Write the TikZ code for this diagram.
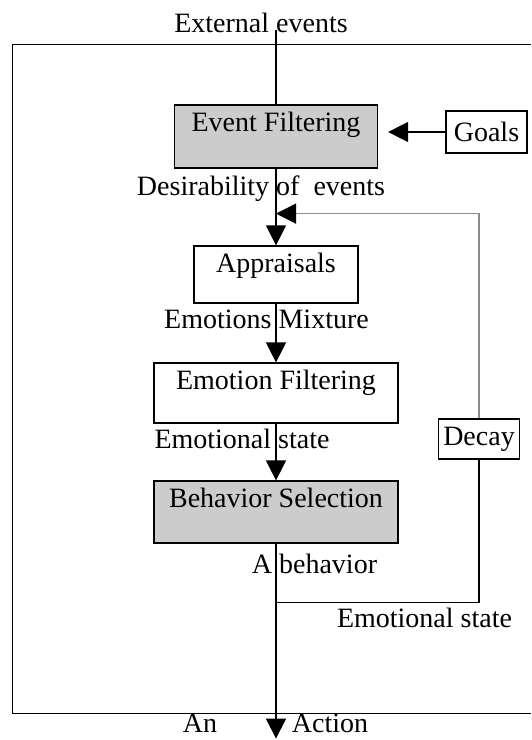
\documentclass[tikz,border=0pt]{standalone}
\usepackage{fontspec}
\setmainfont{Liberation Serif}
\usetikzlibrary{positioning, arrows.meta}

\begin{document}
\begin{tikzpicture}[x=1pt, y=-1pt, ->, >={Triangle[width=20pt,length=20pt]}, line width=1.2pt,
	font=\fontsize{28}{32}\selectfont,
	stage/.style={
		rectangle,
		draw=black,
		inner sep=0pt,
		text height=26pt,
		text centered,
	},
	side/.style={rectangle, draw=black, inner sep=2pt, minimum width=81pt},
	lbl/.style={anchor=base, inner sep=0pt},
	feedback/.style={draw=black!45, -{Triangle[width=20pt,length=20pt,color=black]}},]
	\useasboundingbox (0,0) rectangle (531,740);
	\draw[-, line width=1pt] (531,44) -| (12,713) -- (531,713);

	\node[stage, fill=gray!40, minimum width=203pt, text depth=37pt] (EF) at (276,136.5) {Event Filtering};
	\node[stage, below of = EF, node distance=138pt, minimum width=164pt, text depth=31pt] (App) {Appraisals};
	\node[stage, below of = App, node distance=118.5pt, minimum width=244pt, text depth=34pt] (EmF) {Emotion Filtering};
	\node[stage, below of = EmF, node distance=119pt, fill=gray!40, minimum width=244pt, text depth=36pt] (BS) {Behavior Selection};
	\node[side, right of = EF, node distance=210.5pt, yshift=4.5pt, minimum height=42pt] (Goals) {Goals};
	\node[side, right of = EmF, node distance=203pt, yshift=-46pt, minimum height=40pt] (Decay) {Decay};

	\node[lbl] (ext) at (261,32) {External events};
	\coordinate (fbin) at ([yshift=-45pt]EF.south);
	\coordinate (split) at ([yshift=-59pt]BS.south);
	\coordinate (act) at ([yshift=-195pt]BS.south);

	\draw[-] ([yshift=2pt]ext.base -| EF.north) -- (EF.north);
	\path (EF) edge node[lbl, pos=0.35, xshift=-15pt] {Desirability of\ \ events} (App)
	(App) edge node[lbl, pos=0.43, xshift=-9.5pt] {Emotions Mixture} (EmF)
	(EmF) edge node[lbl, pos=0.43, xshift=-34pt] {Emotional state} (BS)
	(Goals.west) edge[shorten >=10pt] (Goals.west -| EF.east);

	% decay loop back to the appraisals
	\draw[feedback] (Decay.north) |- (fbin);
	\draw (BS.south) -- node[lbl, pos=0.51, xshift=38.5pt] {A behavior} (split) -- (act);
	\draw[-] (split) -| (Decay.south);
	\node[lbl] (es2) at ([xshift=148.5pt, yshift=-25pt]split) {Emotional state};
	\node[lbl] (an) at ([xshift=-76pt, yshift=6pt]act) {An};
	\node[lbl] (action) at ([xshift=54pt, yshift=6pt]act) {Action};
\end{tikzpicture}
\end{document}
